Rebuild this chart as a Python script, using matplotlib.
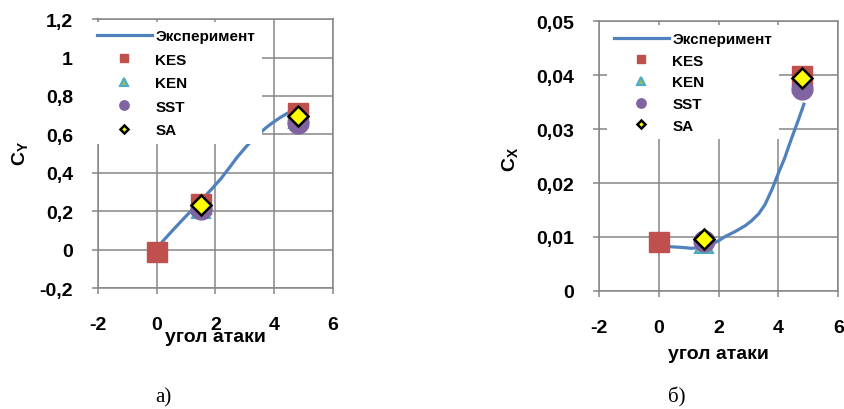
"""Cy and Cx vs angle of attack: experiment vs turbulence models."""

import matplotlib
matplotlib.use("Agg")
import matplotlib.pyplot as plt
from matplotlib.ticker import FuncFormatter, MultipleLocator

plt.rcParams["font.family"] = ["Liberation Sans", "DejaVu Sans"]
plt.rcParams["font.weight"] = "bold"
plt.rcParams["axes.unicode_minus"] = False
plt.rcParams["mathtext.fontset"] = "custom"
plt.rcParams["mathtext.rm"] = "Liberation Sans:bold"
plt.rcParams["mathtext.it"] = "Liberation Sans:bold"
plt.rcParams["mathtext.bf"] = "Liberation Sans:bold"

# --- data: lift coefficient (a) ---
alpha_exp_cy = [0.2, 0.6, 1.0, 1.46, 1.91, 2.2, 2.47, 2.75, 3.04, 3.25, 3.49,
                3.7, 3.94, 4.2, 4.45, 4.62]
cy_exp = [0.043, 0.11, 0.175, 0.247, 0.322, 0.372, 0.426, 0.483, 0.535, 0.57,
          0.603, 0.632, 0.66, 0.687, 0.71, 0.72]
alpha_kes_cy = [0, 1.5, 4.8]
cy_kes = [-0.01, 0.235, 0.71]
alpha_mod = [1.5, 4.8]
cy_ken = [0.21, 0.68]
cy_sst = [0.21, 0.657]
cy_sa = [0.23, 0.695]

# --- data: drag coefficient (b) ---
alpha_exp_cx = [0.03, 0.35, 0.65, 0.9, 1.1, 1.4, 1.77, 2.0, 2.22, 2.55, 2.89,
                3.1, 3.34, 3.55, 3.79, 4.01, 4.2, 4.35, 4.5, 4.68, 4.85]
cx_exp = [0.0083, 0.0082, 0.0081, 0.0080, 0.0079, 0.0081, 0.0087, 0.0093,
          0.0101, 0.0110, 0.0121, 0.0130, 0.0143, 0.0160, 0.0189, 0.0220,
          0.0245, 0.0269, 0.0292, 0.0319, 0.0346]
alpha_kes_cx = [0, 4.8]
cx_kes = [0.009, 0.0398]
cx_ken = [0.0087, 0.0385]
cx_sst = [0.0092, 0.0374]
cx_sa = [0.0097, 0.0394]

GRID = "#868686"
C_EXP = "#4F81BD"
C_KES = "#C0504D"
C_SST = "#8064A2"


def comma_fmt(v, pos):
    return f"{round(v, 4):g}".replace(".", ",")


def draw(ax, x_exp, y_exp, x_kes, y_kes, y_ken, y_sst, y_sa):
    ax.plot(x_exp, y_exp, color=C_EXP, lw=2.3, label="Эксперимент", zorder=3)
    ax.plot(x_kes, y_kes, ls="none", marker="s", ms=14, color=C_KES,
            label="KES", zorder=4)
    ax.plot(alpha_mod, y_ken, ls="none", marker="^", ms=13, mfc="#9BBB59",
            mec="#4BACC6", mew=1.5, label="KEN", zorder=4)
    ax.plot(alpha_mod, y_sst, ls="none", marker="o", ms=15, color=C_SST,
            label="SST", zorder=4)
    ax.plot(alpha_mod, y_sa, ls="none", marker="D", ms=10, mfc="#FFFF00",
            mec="black", mew=1.8, label="SA", zorder=4)

    ax.set_xlim(-2, 6)
    ax.xaxis.set_major_locator(MultipleLocator(2))
    ax.yaxis.set_major_formatter(FuncFormatter(comma_fmt))
    ax.grid(True, color=GRID, lw=1.1)
    ax.set_axisbelow(True)
    for s in ax.spines.values():
        s.set_color(GRID)
        s.set_linewidth(1.1)
    ax.tick_params(axis="both", color=GRID, length=4, width=1.1,
                   labelsize=14)
    ax.tick_params(axis="x", pad=16)
    ax.tick_params(axis="y", pad=14)


fig = plt.figure(figsize=(8.45, 4.10), dpi=100)
ax1 = fig.add_axes([0.116, 0.295, 0.278, 0.656])
ax2 = fig.add_axes([0.709, 0.288, 0.283, 0.658])

draw(ax1, alpha_exp_cy, cy_exp, alpha_kes_cy, cy_kes, cy_ken, cy_sst, cy_sa)
ax1.set_ylim(-0.2, 1.2)
ax1.yaxis.set_major_locator(MultipleLocator(0.2))
ax1.set_ylabel(r"$\mathrm{C_Y}$", fontsize=14)
ax1.yaxis.set_label_coords(-0.29, 0.505)
ax1.set_xlabel("угол атаки", fontsize=14, fontweight="bold")
ax1.xaxis.set_label_coords(0.5, -0.15)

draw(ax2, alpha_exp_cx, cx_exp, alpha_kes_cx, cx_kes, cx_ken, cx_sst, cx_sa)
ax2.set_ylim(0, 0.05)
ax2.yaxis.set_major_locator(MultipleLocator(0.01))
ax2.set_ylabel(r"$\mathrm{C_X}$", fontsize=14)
ax2.yaxis.set_label_coords(-0.33, 0.49)
ax2.set_xlabel("угол атаки", fontsize=14, fontweight="bold")
ax2.xaxis.set_label_coords(0.5, -0.2)

leg_kw = dict(loc="upper left", markerscale=0.45,
              prop={"size": 11, "weight": "bold"},
              handlelength=3.6, handletextpad=0.25, borderaxespad=0,
              fancybox=False, framealpha=1, edgecolor="none",
              facecolor="white", borderpad=0.45)
leg1 = ax1.legend(bbox_to_anchor=(-0.035, 0.988), labelspacing=0.62, **leg_kw)
leg2 = ax2.legend(bbox_to_anchor=(0.032, 0.985), labelspacing=0.5, **leg_kw)

fig.text(163 / 845, 1 - 398 / 410, "а)", family="Liberation Serif",
         fontweight="normal", fontsize=15, ha="center", va="center")
fig.text(677 / 845, 1 - 397 / 410, "б)", family="Liberation Serif",
         fontweight="normal", fontsize=15, ha="center", va="center")

fig.savefig("out.png", dpi=100)
